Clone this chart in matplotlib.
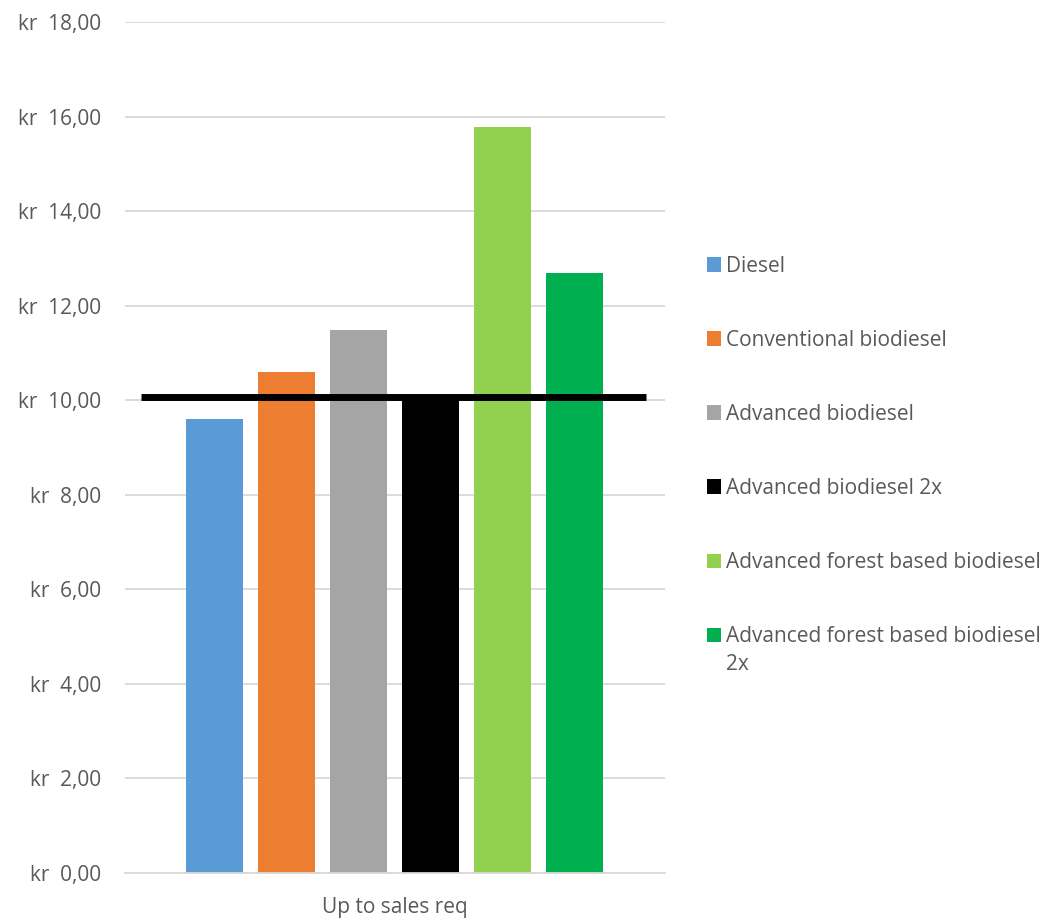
import matplotlib.pyplot as plt
import matplotlib.ticker as mticker

categories = ['Up to sales req']
series = ['Diesel', 'Conventional biodiesel', 'Advanced biodiesel',
          'Advanced biodiesel 2x', 'Advanced forest based biodiesel',
          'Advanced forest based biodiesel 2x']
values = [9.60, 10.60, 11.48, 10.02, 15.78, 12.69]
colors = ['#5B9BD5', '#ED7D31', '#A5A5A5', '#000000', '#92D050', '#00B050']
sales_req = 10.07

plt.rcParams['font.family'] = ['Open Sans', 'DejaVu Sans']
txt = '#595959'
fs = 15

fig = plt.figure(figsize=(10.5, 9.23), dpi=100)
ax = fig.add_axes([0.119, 0.0542, 0.514, 0.922])

pitch = 0.1333
width = 0.1056
handles = []
for i, (name, v, c) in enumerate(zip(series, values, colors)):
    x = (i - (len(series) - 1) / 2) * pitch
    h = ax.bar(x, v, width=width, color=c, label=name, zorder=2)
    handles.append(h)

ax.hlines(sales_req, -0.4704, 0.4648, color='black', linewidth=5, zorder=3)

ax.set_xlim(-0.5, 0.5)
ax.set_ylim(0, 18)
ax.set_yticks(range(0, 19, 2))
ax.yaxis.set_major_formatter(mticker.FuncFormatter(
    lambda v, p: 'kr  ' + f'{v:.2f}'.replace('.', ',')))
ax.set_xticks([0])
ax.set_xticklabels(categories)
ax.grid(axis='y', color='#D9D9D9', linewidth=1.3, zorder=0)
ax.set_axisbelow(True)
for s in ['top', 'right', 'left']:
    ax.spines[s].set_visible(False)
ax.spines['bottom'].set_color('#D9D9D9')
ax.spines['bottom'].set_linewidth(1.3)
ax.tick_params(length=0, labelsize=fs, labelcolor=txt)
ax.tick_params(axis='y', pad=17)
ax.tick_params(axis='x', pad=17)

# Excel wraps the last label; legend shows the first line, "2x" goes below it
labels = [s if len(s) < 32 else s.rsplit(' ', 1)[0] for s in series]
leg = ax.legend(handles, labels, loc='upper left',
                bbox_to_anchor=(0.673, 0.723), bbox_transform=fig.transFigure,
                frameon=False, fontsize=fs, labelcolor=txt,
                handlelength=0.7, handleheight=0.7, handletextpad=0.25,
                labelspacing=2.55, borderpad=0, borderaxespad=0)

fig.canvas.draw()
last = leg.get_texts()[-1]
bb = last.get_window_extent().transformed(fig.transFigure.inverted())
fig.text(bb.x0, bb.y0 - 0.0068, series[-1].rsplit(' ', 1)[1],
         fontsize=fs, color=txt, va='top', ha='left')

fig.savefig('out.png', dpi=100)
